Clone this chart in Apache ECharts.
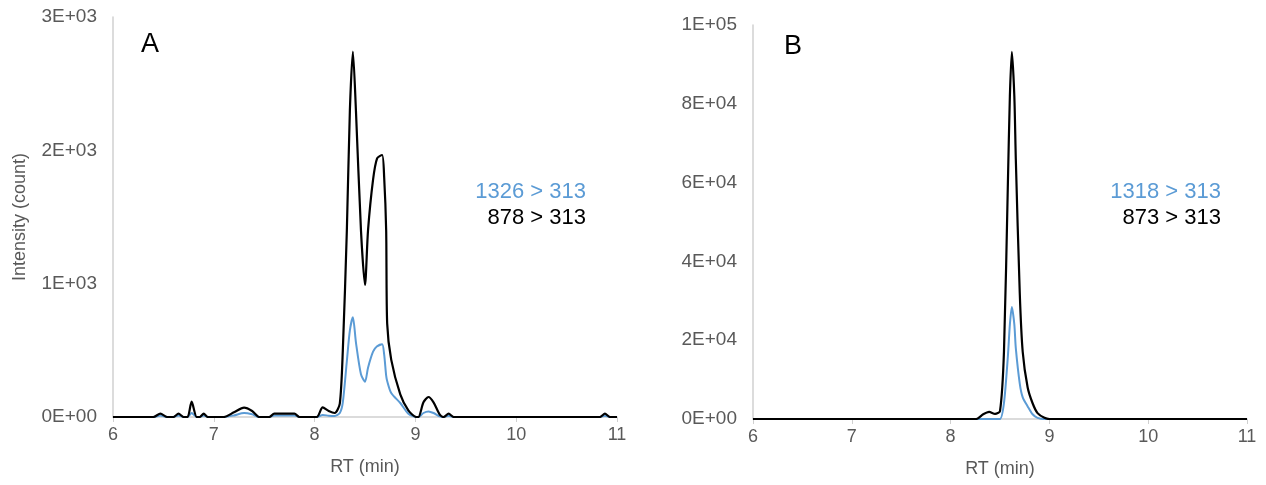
<!DOCTYPE html>
<html>
<head>
<meta charset="utf-8">
<script src="https://cdn.jsdelivr.net/npm/echarts@6/dist/echarts.min.js"></script>
<style>
    html, body {margin: 0; padding: 0; background: #fff;}
    #main {width: 1266px; height: 485px;}
</style>
</head>
<body>
<div id="main"></div>
<script>
//面板A 数据
var rtA = [6.00, 6.40, 6.47, 6.54, 6.60, 6.65, 6.70, 6.74, 6.78, 6.83, 6.86, 6.90, 6.94, 7.10, 7.20, 7.30, 7.38, 7.45, 7.55, 7.60,
    7.80, 7.85, 8.02, 8.08, 8.14, 8.20, 8.25, 8.28, 8.32, 8.35, 8.38, 8.41, 8.46, 8.50, 8.53, 8.58, 8.62, 8.67, 8.69, 8.71,
    8.72, 8.76, 8.85, 8.93, 9.01, 9.03, 9.08, 9.13, 9.18, 9.24, 9.28, 9.33, 9.38, 10.83, 10.88, 10.93, 11.00];
var blackA = [0, 0, 25, 0, 0, 25, 0, 0, 115, 0, 0, 25, 0, 0, 35, 70, 45, 0, 0, 25,
    25, 0, 0, 72, 45, 30, 100, 500, 1400, 2300, 2740, 2300, 1400, 990, 1400, 1780, 1940, 1965, 1800, 1400,
    700, 430, 170, 50, 0, 0, 110, 150, 110, 20, 0, 25, 0, 0, 25, 0, 0];
var blueA = [0, 0, 12, 0, 0, 12, 0, 0, 30, 0, 0, 12, 0, 0, 12, 30, 20, 0, 0, 12,
    12, 0, 0, 15, 10, 8, 30, 110, 420, 650, 748, 560, 320, 265, 370, 490, 530, 545, 470, 310,
    270, 180, 105, 25, 0, 0, 30, 42, 30, 5, 0, 10, 0, 0, 10, 0, 0];

//面板B 数据
var rtB = [6.00, 8.26, 8.33, 8.39, 8.45, 8.50, 8.54, 8.58, 8.60, 8.62, 8.645, 8.66, 8.70, 8.73, 8.78, 8.83, 8.88, 8.95, 9.00, 11.00];
var blackB = [0, 0, 1200, 1800, 1300, 2000, 17000, 60000, 82000, 93200, 82000, 66000, 32000, 17000, 8000, 4000, 1500, 300, 0, 0];
var blueB = [0, 0, 0, 0, 0, 0, 4000, 16000, 24000, 28400, 24000, 18000, 9000, 5500, 3200, 1200, 300, 0, 0, 0];

//刻度标签
var xTicks = ['6', '7', '8', '9', '10', '11'];
var yTicksA = ['0E+00', '1E+03', '2E+03', '3E+03'];
var yTicksB = ['0E+00', '2E+04', '4E+04', '6E+04', '8E+04', '1E+05'];

var labelsA = ['1326 > 313', '878 > 313'];
var labelsB = ['1318 > 313', '873 > 313'];

var font = 'Liberation Sans, Arial, sans-serif';
var blue = '#5b9bd5';

function pairs(xs, ys) {
    let out = new Array();
    for (let i = 0; i < xs.length; i++) {
        out.push([xs[i], ys[i]]);
    }
    return out;
}

function xAxisOf(idx) {
    return {
        type: 'value',
        gridIndex: idx,
        min: 6,
        max: 11,
        interval: 1,
        name: 'RT (min)',
        nameLocation: 'middle',
        nameGap: 41,
        nameTextStyle: {color: '#595959', fontSize: 18, fontFamily: font},
        axisLine: {lineStyle: {color: '#d0d0d0', width: 1.5}},
        axisTick: {show: true, length: 5, lineStyle: {color: '#d0d0d0'}},
        axisLabel: {
            color: '#595959', fontSize: 18, fontFamily: font, margin: 9,
            formatter: function (v) { return xTicks[Math.round(v) - 6]; }
        },
        splitLine: {show: false}
    };
}

function yAxisOf(idx, max, step, ticks, name) {
    return {
        type: 'value',
        gridIndex: idx,
        min: 0,
        max: max,
        interval: step,
        name: name,
        nameLocation: 'middle',
        nameGap: 84,
        nameTextStyle: {color: '#595959', fontSize: 18, fontFamily: font},
        axisLine: {show: true, lineStyle: {color: '#d0d0d0', width: 1.5}},
        axisTick: {show: false},
        axisLabel: {
            color: '#595959', fontSize: 19, fontFamily: font, margin: 16,
            formatter: function (v) { return ticks[Math.round(v / step)]; }
        },
        splitLine: {show: false}
    };
}

function line(name, idx, xs, ys, color, width, z) {
    return {
        name: name,
        type: 'line',
        xAxisIndex: idx,
        yAxisIndex: idx,
        data: pairs(xs, ys),
        smooth: 0.25,
        showSymbol: false,
        z: z,
        lineStyle: {color: color, width: width}
    };
}

var chart = document.getElementById('main');
var echart = echarts.init(chart);

var option = {
    animation: false,
    grid: [
        {left: 113, top: 17, width: 504, height: 400},
        {left: 753, top: 25, width: 494, height: 394}
    ],
    xAxis: [xAxisOf(0), xAxisOf(1)],
    yAxis: [
        yAxisOf(0, 3000, 1000, yTicksA, 'Intensity (count)'),
        yAxisOf(1, 100000, 20000, yTicksB, '')
    ],
    graphic: [
        {type: 'text', left: 141, top: 31, style: {text: 'A', fontSize: 27, fontFamily: font, fill: '#000'}},
        {type: 'text', left: 784, top: 33, style: {text: 'B', fontSize: 27, fontFamily: font, fill: '#000'}},
        {type: 'text', right: 680, top: 181, style: {text: labelsA[0], fontSize: 22, fontFamily: font, fill: blue, align: 'right'}},
        {type: 'text', right: 680, top: 207, style: {text: labelsA[1], fontSize: 22, fontFamily: font, fill: '#000', align: 'right'}},
        {type: 'text', right: 45, top: 181, style: {text: labelsB[0], fontSize: 22, fontFamily: font, fill: blue, align: 'right'}},
        {type: 'text', right: 45, top: 207, style: {text: labelsB[1], fontSize: 22, fontFamily: font, fill: '#000', align: 'right'}}
    ],
    series: [
        line(labelsA[0], 0, rtA, blueA, blue, 2, 2),
        line(labelsA[1], 0, rtA, blackA, '#000', 2.2, 3),
        line(labelsB[0], 1, rtB, blueB, blue, 2, 2),
        line(labelsB[1], 1, rtB, blackB, '#000', 2.2, 3)
    ]
};
echart.setOption(option);
</script>
</body>
</html>
